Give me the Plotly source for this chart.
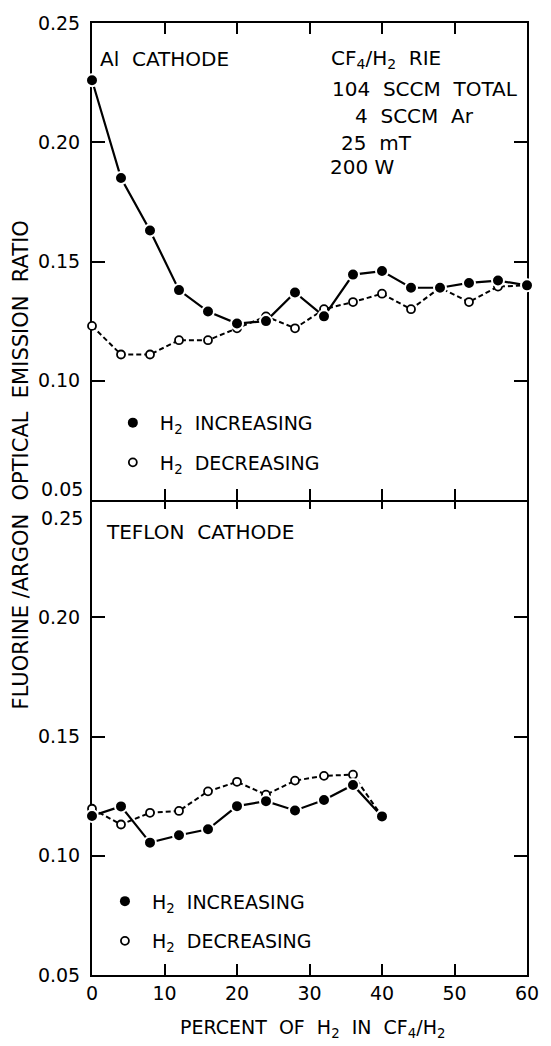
import plotly.graph_objects as go

# ---- data -------------------------------------------------------------
# Al cathode (upper panel)
pct_al = [0, 4, 8, 12, 16, 20, 24, 28, 32, 36, 40, 44, 48, 52, 56, 60]
al_increasing = [0.226, 0.185, 0.163, 0.138, 0.129, 0.124, 0.125, 0.137,
                 0.127, 0.1445, 0.146, 0.139, 0.139, 0.141, 0.142, 0.140]
al_decreasing = [0.123, 0.111, 0.111, 0.117, 0.117, 0.122, 0.127, 0.122,
                 0.130, 0.133, 0.1365, 0.130, 0.139, 0.133, 0.1395, 0.140]

# Teflon cathode (lower panel)
pct_teflon = [0, 4, 8, 12, 16, 20, 24, 28, 32, 36, 40]
teflon_increasing = [0.1167, 0.1207, 0.1055, 0.1086, 0.1111, 0.1208,
                     0.1229, 0.119, 0.1234, 0.1297, 0.1165]
teflon_decreasing = [0.1197, 0.1131, 0.118, 0.1188, 0.127, 0.131,
                     0.1256, 0.1315, 0.1335, 0.134, 0.1165]

x_ticks = [0, 10, 20, 30, 40, 50, 60]
y_ticks_upper = [0.10, 0.15, 0.20, 0.25]
y_ticks_lower = [0.05, 0.10, 0.15, 0.20]

label_inc = "H<sub>2</sub>  INCREASING"
label_dec = "H<sub>2</sub>  DECREASING"

# ---- geometry ---------------------------------------------------------
W, H = 551, 1046
ML, MR, MT, MB = 92, 19, 20, 71
PW, PH = W - ML - MR, H - MT - MB
FONT = "DejaVu Sans"
LW = 2  # frame line width
# panels overlap by one line width so their shared edge is a single line
SPLIT = 0.5
OVERLAP = (LW / 2) / PH


def px(xp):
    return (xp - ML) / PW


def py(yp):
    return (H - MB - yp) / PH


inc_marker = dict(size=12, color="black", line=dict(color="white", width=2))
dec_marker = dict(size=8, color="white", line=dict(color="black", width=1.8))
inc_line = dict(color="black", width=2.2)
dec_line = dict(color="black", width=2, dash="5px,3px")

fig = go.Figure()

# upper panel (x2 / y2)
fig.add_trace(go.Scatter(x=pct_al, y=al_decreasing, xaxis="x2", yaxis="y2",
                         mode="lines+markers", line=dec_line, marker=dec_marker,
                         showlegend=False, cliponaxis=False))
fig.add_trace(go.Scatter(x=pct_al, y=al_increasing, xaxis="x2", yaxis="y2",
                         mode="lines+markers", line=inc_line, marker=inc_marker,
                         showlegend=False, cliponaxis=False))

# lower panel (x / y)
fig.add_trace(go.Scatter(x=pct_teflon, y=teflon_decreasing,
                         mode="lines+markers", line=dec_line, marker=dec_marker,
                         showlegend=False, cliponaxis=False))
fig.add_trace(go.Scatter(x=pct_teflon, y=teflon_increasing,
                         mode="lines+markers", line=inc_line, marker=inc_marker,
                         showlegend=False, cliponaxis=False))

# legend keys, one legend per panel
for leg, xa, ya in (("legend", "x2", "y2"), ("legend2", "x", "y")):
    fig.add_trace(go.Scatter(x=[None], y=[None], xaxis=xa, yaxis=ya,
                             mode="markers", name=label_inc,
                             marker=dict(size=10, color="black"),
                             legend=leg, legendgroup=leg + "inc"))
    fig.add_trace(go.Scatter(x=[None], y=[None], xaxis=xa, yaxis=ya,
                             mode="markers", name=label_dec,
                             marker=dec_marker,
                             legend=leg, legendgroup=leg + "dec"))

axis_common = dict(
    showline=True, linecolor="black", linewidth=LW, mirror="ticks",
    ticks="inside", tickwidth=2, tickcolor="black",
    showgrid=False, zeroline=False, layer="below traces",
    tickfont=dict(family=FONT, size=19, color="black"),
)

fig.update_layout(
    width=W, height=H,
    margin=dict(l=ML, r=MR, t=MT, b=MB),
    paper_bgcolor="white", plot_bgcolor="white",
    font=dict(family=FONT, size=19, color="black"),
    xaxis=dict(axis_common, domain=[0, 1], anchor="y", range=[0, 60],
               tickvals=x_ticks, ticklen=11, ticklabelstandoff=0),
    yaxis=dict(axis_common, domain=[0, SPLIT + OVERLAP], anchor="x",
               range=[0.05, 0.25], tickvals=y_ticks_lower,
               ticktext=["%.2f" % v for v in y_ticks_lower],
               ticklen=13, ticklabelstandoff=6),
    xaxis2=dict(axis_common, domain=[0, 1], anchor="y2", range=[0, 60],
                tickvals=x_ticks, ticklen=11, showticklabels=False),
    yaxis2=dict(axis_common, domain=[SPLIT - OVERLAP, 1], anchor="x2",
                range=[0.05, 0.25], tickvals=y_ticks_upper,
                ticktext=["%.2f" % v for v in y_ticks_upper],
                ticklen=13, ticklabelstandoff=6),
    legend=dict(x=px(106), y=py(402), xanchor="left", yanchor="top",
                bgcolor="rgba(0,0,0,0)", itemwidth=44, traceorder="grouped",
                tracegroupgap=12, font=dict(family=FONT, size=19)),
    legend2=dict(x=px(98), y=py(882), xanchor="left", yanchor="top",
                 bgcolor="rgba(0,0,0,0)", itemwidth=44, traceorder="grouped",
                 tracegroupgap=12, font=dict(family=FONT, size=19)),
)

text_font = dict(family=FONT, size=20, color="black")


def note(text, xp, yp, xanchor="left", size=20, angle=0):
    fig.add_annotation(text=text, x=px(xp), y=py(yp), xref="paper", yref="paper",
                       xanchor=xanchor, yanchor="middle", showarrow=False,
                       textangle=angle, font=dict(text_font, size=size))


# panel labels and run conditions
note("Al  CATHODE", 98, 56)
note("TEFLON  CATHODE", 104, 531)
note("CF<sub>4</sub>/H<sub>2</sub>  RIE", 332, 56)
note("104  SCCM  TOTAL", 333, 86)
note("4  SCCM  Ar", 356, 113)
note("25  mT", 342, 140)
note("200 W", 331, 164)

# tick labels sitting at the shared panel edge
note("0.05", 85, 487, xanchor="right", size=19)
note("0.25", 85, 517, xanchor="right", size=19)

# axis titles
note("FLUORINE /ARGON  OPTICAL  EMISSION  RATIO", 20, 463,
     xanchor="center", size=21, angle=-90)
note("PERCENT  OF  H<sub>2</sub>  IN  CF<sub>4</sub>/H<sub>2</sub>", 315, 1029,
     xanchor="center", size=19)

fig.write_html("out.html")
